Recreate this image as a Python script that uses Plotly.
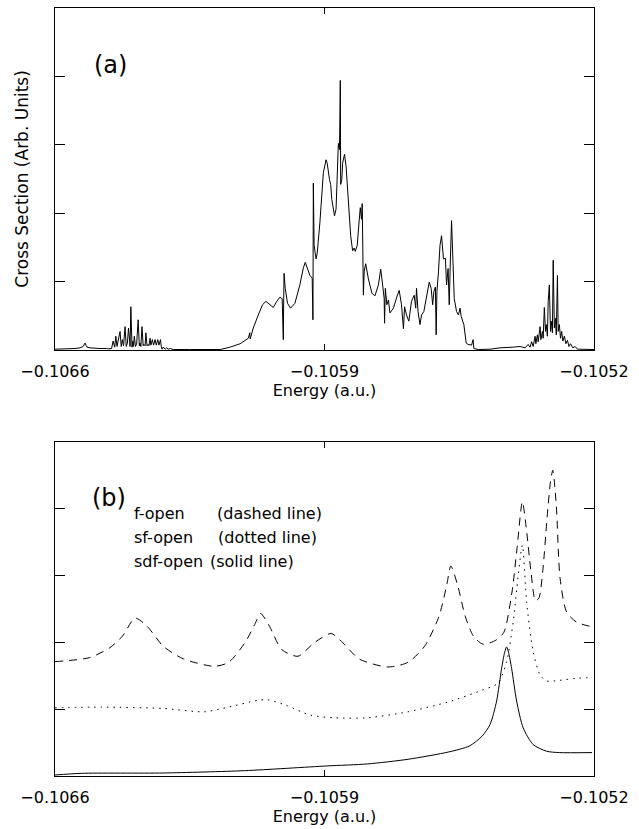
import plotly.graph_objects as go

# ---------------- Panel (a): cross section vs energy ----------------
energy_a = [
    -0.106600, -0.106570, -0.106548, -0.106535, -0.106527, -0.106522, -0.106517, -0.106509,
    -0.106495, -0.106483, -0.106466, -0.106462, -0.106453, -0.106449, -0.106445, -0.106442,
    -0.106439, -0.106436, -0.106431, -0.106428, -0.106425, -0.106422, -0.106418, -0.106415,
    -0.106412, -0.106409, -0.106405, -0.106403, -0.106400, -0.106398, -0.106396, -0.106394,
    -0.106391, -0.106388, -0.106384, -0.106381, -0.106379, -0.106377, -0.106374, -0.106371,
    -0.106369, -0.106366, -0.106364, -0.106361, -0.106358, -0.106356, -0.106353, -0.106351,
    -0.106347, -0.106344, -0.106340, -0.106337, -0.106333, -0.106330, -0.106326, -0.106324,
    -0.106322, -0.106319, -0.106314, -0.106310, -0.106306, -0.106300, -0.106293, -0.106250,
    -0.106189, -0.106171,
    -0.106145, -0.106119, -0.106098, -0.106094, -0.106093, -0.106085, -0.106072, -0.106061,
    -0.106052, -0.106042, -0.106033, -0.106024, -0.106016, -0.106010, -0.106008, -0.106007,
    -0.106006, -0.106005, -0.106002, -0.105996, -0.105988, -0.105977, -0.105964, -0.105955,
    -0.105950, -0.105945, -0.105938, -0.105932, -0.105930, -0.105929, -0.105927, -0.105922,
    -0.105919, -0.105912, -0.105903, -0.105896, -0.105893, -0.105887, -0.105884, -0.105881,
    -0.105874, -0.105870, -0.105867, -0.105864, -0.105861, -0.105859, -0.105858, -0.105855,
    -0.105853, -0.105848, -0.105844, -0.105838, -0.105832, -0.105827, -0.105823, -0.105820,
    -0.105815, -0.105809, -0.105807, -0.105804, -0.105802, -0.105799, -0.105797, -0.105793,
    -0.105786, -0.105777, -0.105769, -0.105760, -0.105754, -0.105749, -0.105745, -0.105744,
    -0.105742, -0.105738, -0.105734, -0.105730, -0.105721, -0.105713, -0.105706, -0.105700,
    -0.105695, -0.105692, -0.105687, -0.105681, -0.105674, -0.105667, -0.105663, -0.105661,
    -0.105657, -0.105652, -0.105648, -0.105642, -0.105635, -0.105628, -0.105623, -0.105619,
    -0.105616, -0.105612, -0.105610, -0.105608, -0.105604, -0.105600, -0.105596, -0.105591,
    -0.105586, -0.105583, -0.105579, -0.105576, -0.105573, -0.105570, -0.105566, -0.105563,
    -0.105557, -0.105552, -0.105548, -0.105545, -0.105541, -0.105538, -0.105532, -0.105527,
    -0.105518, -0.105514, -0.105512, -0.105500,
    -0.105470, -0.105444, -0.105410, -0.105392, -0.105379, -0.105371, -0.105366, -0.105362,
    -0.105358, -0.105353, -0.105351, -0.105347, -0.105345, -0.105340, -0.105338, -0.105334,
    -0.105332, -0.105329, -0.105326, -0.105324, -0.105321, -0.105319, -0.105316, -0.105313,
    -0.105311, -0.105308, -0.105306, -0.105303, -0.105300, -0.105298, -0.105295, -0.105293,
    -0.105290, -0.105287, -0.105284, -0.105281, -0.105277, -0.105273, -0.105269, -0.105265,
    -0.105261, -0.105255, -0.105249, -0.105243, -0.105237, -0.105200,
]
cross_a = [
    0.01, 0.01, 0.02, 0.03, 0.05, 0.10, 0.04, 0.03,
    0.02, 0.02, 0.02, 0.015, 0.02, 0.13, 0.04, 0.20,
    0.05, 0.13, 0.27, 0.05, 0.15, 0.06, 0.34, 0.05,
    0.10, 0.32, 0.05, 0.63, 0.04, 0.13, 0.05, 0.20,
    0.05, 0.08, 0.44, 0.06, 0.10, 0.05, 0.34, 0.06,
    0.08, 0.06, 0.25, 0.06, 0.08, 0.06, 0.17, 0.07,
    0.15, 0.07, 0.15, 0.07, 0.15, 0.07, 0.15, 0.05,
    0.01, 0.04, 0.01, 0.03, 0.01, 0.02, 0.005, 0.005,
    0.01, 0.005,
    0.04, 0.09, 0.17, 0.25, 0.16, 0.32, 0.51, 0.66,
    0.71, 0.66, 0.62, 0.71, 0.77, 0.75, 0.46, 0.15,
    0.75, 1.12, 0.90, 0.68, 0.61, 0.68, 0.95, 1.20,
    1.28, 1.21, 1.09, 1.05, 0.44, 2.44, 1.53, 1.33,
    1.41, 1.86, 2.59, 2.78, 2.73, 2.49, 2.42, 2.20,
    1.96, 2.06, 2.64, 3.02, 2.93, 3.94, 2.42, 2.49,
    2.73, 2.86, 2.69, 2.15, 1.67, 1.45, 1.49, 1.44,
    1.53, 1.96, 2.08, 1.91, 2.14, 0.80, 1.14, 1.26,
    1.04, 0.83, 0.79, 0.95, 1.18, 0.95, 0.75, 0.39,
    0.90, 0.66, 0.73, 0.54, 0.61, 0.76, 0.87, 0.66,
    0.31, 0.63, 0.51, 0.42, 0.71, 0.80, 0.61, 0.90,
    0.56, 0.37, 0.51, 0.56, 0.75, 0.99, 0.90, 0.66,
    0.85, 0.92, 0.22, 0.85, 1.14, 1.53, 1.67, 1.33,
    1.34, 0.95, 1.19, 0.66, 1.33, 1.89, 1.24, 0.75,
    0.56, 0.51, 0.61, 0.49, 0.42, 0.37, 0.10, 0.08,
    0.07, 0.15, 0.02, 0.005,
    0.01, 0.03, 0.04, 0.05, 0.03, 0.08, 0.04, 0.12,
    0.05, 0.20, 0.09, 0.22, 0.12, 0.34, 0.15, 0.27,
    0.17, 0.62, 0.27, 0.37, 0.20, 0.71, 0.95, 0.27,
    0.42, 0.25, 1.31, 0.32, 0.46, 0.22, 1.09, 0.27,
    0.37, 0.17, 0.27, 0.13, 0.20, 0.09, 0.14, 0.05,
    0.09, 0.03, 0.05, 0.01, 0.01, 0.005,
]

# ---------------- Panel (b): three channel sets ----------------
energy_f = [
    -0.106600, -0.106510, -0.106457, -0.106425, -0.106392, -0.106361, -0.106319, -0.106266,
    -0.106186, -0.106149, -0.106107, -0.106080, -0.106066, -0.106043, -0.106011, -0.105969,
    -0.105927, -0.105883, -0.105852, -0.105810, -0.105736, -0.105683, -0.105640, -0.105603,
    -0.105582, -0.105572, -0.105555, -0.105534, -0.105513, -0.105488, -0.105455, -0.105434,
    -0.105413, -0.105400, -0.105386, -0.105375, -0.105364, -0.105352, -0.105343, -0.105333,
    -0.105322, -0.105313, -0.105307, -0.105298, -0.105288, -0.105271, -0.105245, -0.105205,
]
sigma_f = [
    1.71, 1.77, 1.92, 2.09, 2.36, 2.24, 1.94, 1.75,
    1.64, 1.70, 1.99, 2.28, 2.43, 2.24, 1.89, 1.79,
    1.99, 2.13, 1.99, 1.75, 1.63, 1.70, 1.94, 2.38,
    2.87, 3.14, 2.87, 2.38, 2.09, 1.97, 2.03, 2.15,
    2.75, 3.40, 4.10, 3.66, 3.07, 2.62, 2.66, 3.07,
    3.85, 4.40, 4.57, 4.05, 2.95, 2.45, 2.30, 2.23,
]

energy_sf = [
    -0.106600, -0.106478, -0.106319, -0.106213, -0.106149, -0.106075, -0.106048, -0.106001,
    -0.105937, -0.105873, -0.105789, -0.105683, -0.105577, -0.105492, -0.105449, -0.105427,
    -0.105410, -0.105397, -0.105386, -0.105375, -0.105358, -0.105340, -0.105323, -0.105290,
    -0.105248, -0.105205,
]
sigma_sf = [
    1.02, 1.03, 1.01, 0.96, 1.03, 1.13, 1.14, 1.06,
    0.91, 0.87, 0.87, 0.96, 1.11, 1.28, 1.39, 1.71,
    2.30, 2.99, 3.45, 2.60, 1.86, 1.51, 1.42, 1.43,
    1.46, 1.47,
]

energy_sdf = [
    -0.106600, -0.106531, -0.106319, -0.106107, -0.105895, -0.105789, -0.105683, -0.105577,
    -0.105523, -0.105490, -0.105470, -0.105453, -0.105440, -0.105432, -0.105427, -0.105422,
    -0.105414, -0.105401, -0.105384, -0.105358, -0.105323, -0.105290, -0.105205,
]
sigma_sdf = [
    0.015, 0.04, 0.045, 0.08, 0.15, 0.18, 0.25, 0.36,
    0.45, 0.60, 0.77, 1.12, 1.61, 1.85, 1.93, 1.85,
    1.61, 1.12, 0.72, 0.47, 0.37, 0.35, 0.35,
]

x_tick_vals = [-0.1066, -0.1059, -0.1052]
x_tick_text = ["\u22120.1066", "\u22120.1059", "\u22120.1052"]
y_tick_vals = [1, 2, 3, 4]

legend_names = ["f-open", "sf-open", "sdf-open"]
legend_desc = ["(dashed line)", "(dotted line)", "(solid line)"]

FONT = "DejaVu Sans"
W, H = 639, 829
ML, MR, MT, MB = 55, 45, 7, 47
PW, PH = W - ML - MR, H - MT - MB


def px(xp):
    return (xp - ML) / PW


def py(yp):
    return (H - MB - yp) / PH


fig = go.Figure()
fig.add_trace(go.Scatter(x=energy_a, y=cross_a, mode="lines",
                         line=dict(color="black", width=1), xaxis="x", yaxis="y",
                         showlegend=False))
fig.add_trace(go.Scatter(x=energy_f, y=sigma_f, mode="lines",
                         line=dict(color="black", width=1, dash="8px,6px", shape="spline", smoothing=0.7),
                         xaxis="x2", yaxis="y2", showlegend=False))
fig.add_trace(go.Scatter(x=energy_sf, y=sigma_sf, mode="lines",
                         line=dict(color="black", width=1, dash="1.5px,5px", shape="spline", smoothing=0.7),
                         xaxis="x2", yaxis="y2", showlegend=False))
fig.add_trace(go.Scatter(x=energy_sdf, y=sigma_sdf, mode="lines",
                         line=dict(color="black", width=1, shape="spline", smoothing=0.7),
                         xaxis="x2", yaxis="y2", showlegend=False))

xaxis_common = dict(range=[-0.1066, -0.1052], tickvals=x_tick_vals, ticktext=x_tick_text,
                    ticks="inside", ticklen=6, tickcolor="black", tickwidth=1,
                    showline=True, linecolor="black", linewidth=1, mirror="ticks",
                    showgrid=False, zeroline=False, ticklabelstandoff=7,
                    tickfont=dict(family=FONT, size=16, color="black"),
                    title=dict(text="Energy (a.u.)", font=dict(family=FONT, size=16, color="black"),
                               standoff=4))
yaxis_common = dict(range=[0, 5], tickvals=y_tick_vals, showticklabels=False,
                    ticks="inside", ticklen=10, tickcolor="black", tickwidth=1,
                    showline=True, linecolor="black", linewidth=1, mirror="ticks",
                    showgrid=False, zeroline=False)

top_a, bot_a = 7, 352
top_b, bot_b = 444.5, 782

fig.update_layout(
    width=W, height=H,
    margin=dict(l=ML, r=MR, t=MT, b=MB),
    paper_bgcolor="white", plot_bgcolor="white",
    font=dict(family=FONT, size=16, color="black"),
    xaxis=dict(domain=[0, 1], anchor="y", **xaxis_common),
    yaxis=dict(domain=[py(bot_a), py(top_a)], anchor="x",
               title=dict(text="Cross Section (Arb. Units)",
                          font=dict(family=FONT, size=17, color="black"), standoff=21),
               **yaxis_common),
    xaxis2=dict(domain=[0, 1], anchor="y2", **xaxis_common),
    yaxis2=dict(domain=[py(bot_b), py(top_b)], anchor="x2", **yaxis_common),
)

annotations = [
    dict(text="(a)", x=px(110), y=py(65), xref="paper", yref="paper",
         xanchor="center", yanchor="middle", showarrow=False,
         font=dict(family=FONT, size=24, color="black")),
    dict(text="(b)", x=px(109), y=py(501), xref="paper", yref="paper",
         xanchor="center", yanchor="middle", showarrow=False,
         font=dict(family=FONT, size=24, color="black")),
]
row_y = [517, 541, 566]
desc_x = [215, 216, 208]
for name, desc, yy, dx in zip(legend_names, legend_desc, row_y, desc_x):
    annotations.append(dict(text=name, x=px(132), y=py(yy), xref="paper", yref="paper",
                            xanchor="left", yanchor="middle", showarrow=False,
                            font=dict(family=FONT, size=16, color="black")))
    annotations.append(dict(text=desc, x=px(dx), y=py(yy), xref="paper", yref="paper",
                            xanchor="left", yanchor="middle", showarrow=False,
                            font=dict(family=FONT, size=16, color="black")))
fig.update_layout(annotations=annotations)

fig.write_html("out.html")
